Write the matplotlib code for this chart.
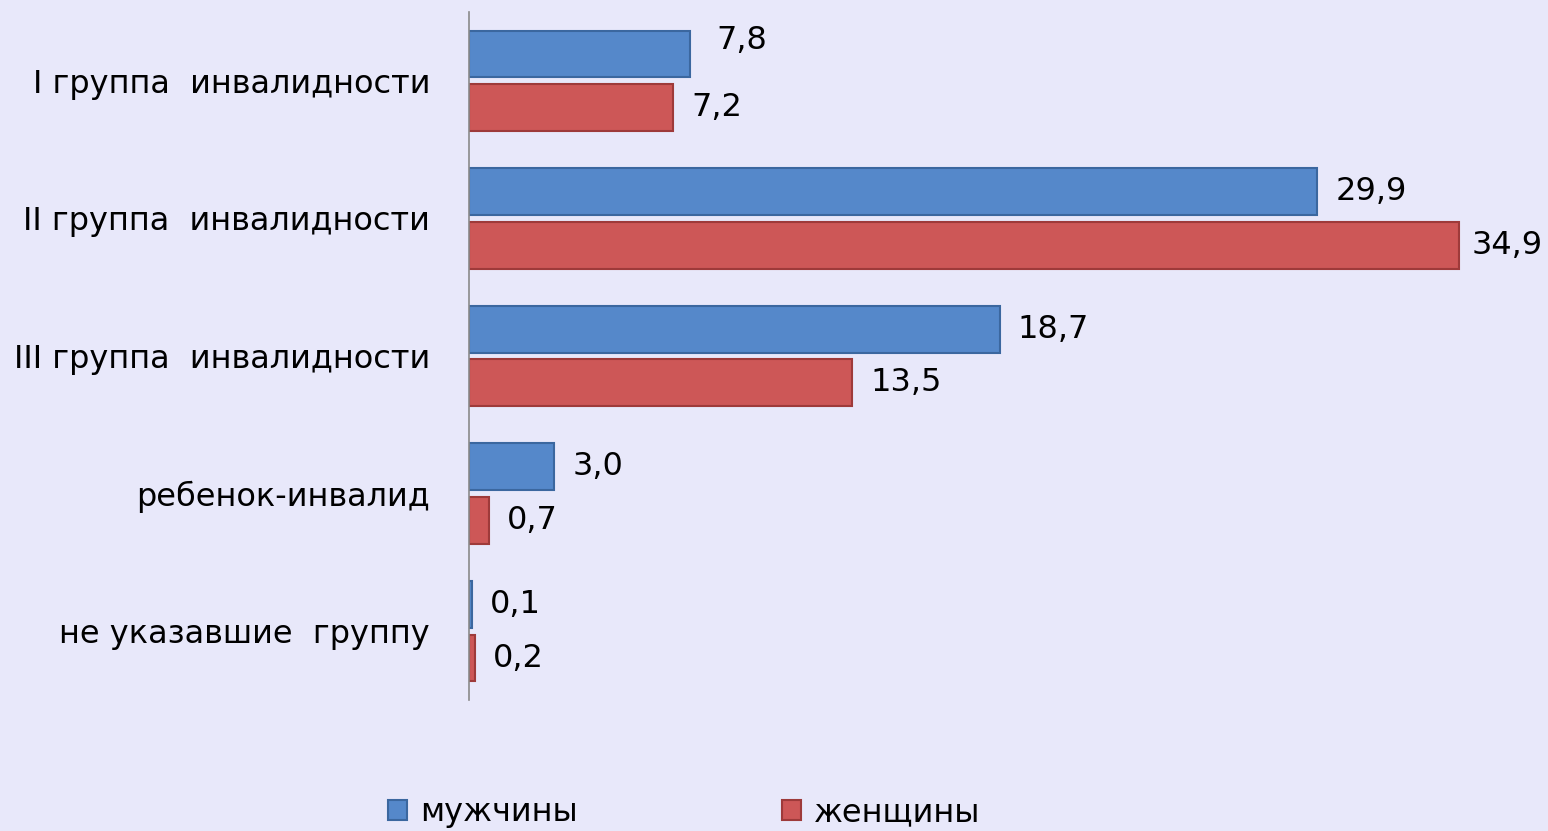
import numpy as np
import matplotlib
matplotlib.use("Agg")
import matplotlib.pyplot as plt

categories = ["I группа  инвалидности", "II группа  инвалидности",
              "III группа  инвалидности", "ребенок-инвалид",
              "не указавшие  группу"]
men = [7.8, 29.9, 18.7, 3.0, 0.1]
women = [7.2, 34.9, 13.5, 0.7, 0.2]
series_names = ["мужчины", "женщины"]

BG = "#E8E8FA"
BLUE, BLUE_EDGE = "#5588CA", "#3B679F"
RED, RED_EDGE = "#CD5757", "#9E3A3A"

plt.rcParams.update({"font.family": "DejaVu Sans", "font.size": 23})

fig = plt.figure(figsize=(15.48, 8.31), dpi=100, facecolor=BG)
ax = fig.add_axes([469 / 1548, 131 / 831, (1548 - 469) / 1548, 688 / 831])
ax.set_facecolor(BG)

y = np.arange(len(categories))
h = 0.34
off = 0.195
b1 = ax.barh(y - off, men, height=h, color=BLUE, edgecolor=BLUE_EDGE, lw=1.5,
             label=series_names[0])
b2 = ax.barh(y + off, women, height=h, color=RED, edgecolor=RED_EDGE, lw=1.5,
             label=series_names[1])

# Excel moved a couple of labels to keep them clear of bars / the edge
nudge = {(0, 0): (19, 10), (1, 1): (9, 0)}

fmt = lambda v: f"{v:.1f}".replace(".", ",")
for si, (bars, vals) in enumerate(((b1, men), (b2, women))):
    for ci, (bar, v) in enumerate(zip(bars, vals)):
        dx, dy = nudge.get((si, ci), (13, 0))
        ax.annotate(fmt(v), (bar.get_width(), bar.get_y() + bar.get_height() / 2),
                    xytext=(dx, dy), textcoords="offset points",
                    ha="left", va="center", fontsize=23)

ax.set_xlim(0, 38.03)
ax.set_ylim(4.5, -0.5)
ax.set_yticks(y)
ax.set_yticklabels(categories, fontsize=23)
ax.tick_params(axis="y", length=0, pad=28)
ax.set_xticks([])
for s in ("top", "right", "bottom"):
    ax.spines[s].set_visible(False)
ax.spines["left"].set_color("#8A8A8A")
ax.spines["left"].set_linewidth(1.2)

fig.legend(handles=[b1, b2], labels=series_names, loc="center",
           bbox_to_anchor=(0.442, 0.022), ncol=2, frameon=False,
           fontsize=23, handlelength=0.6, handleheight=0.6,
           handletextpad=0.4, columnspacing=6.4)

fig.savefig("out.png", dpi=100, facecolor=BG)
